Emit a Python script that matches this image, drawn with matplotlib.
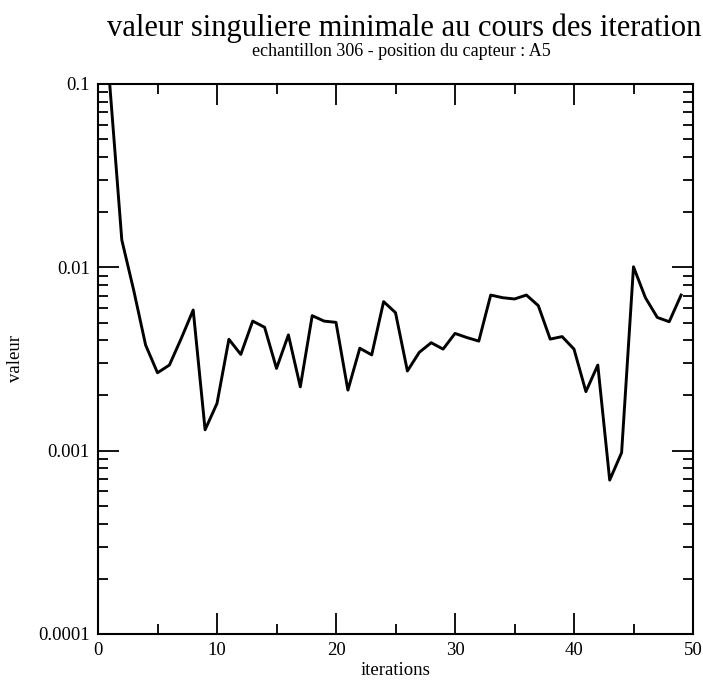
import matplotlib
matplotlib.use("Agg")
import matplotlib.pyplot as plt
from matplotlib.ticker import LogLocator, FixedLocator, NullFormatter

plt.rcParams["font.family"] = ["Liberation Serif", "DejaVu Serif"]

iterations = list(range(1, 50))
valeurs = [
    0.097, 0.0141, 0.0075, 0.00377, 0.00266, 0.00293, 0.00410, 0.00585, 0.00130, 0.00181,
    0.00405, 0.00335, 0.00509, 0.00471, 0.00281, 0.00428, 0.00223, 0.00545, 0.00509, 0.00501,
    0.00214, 0.00362, 0.00333, 0.00650, 0.00566, 0.00272, 0.00344, 0.00388, 0.00358, 0.00436,
    0.00414, 0.00396, 0.00706, 0.00683, 0.00672, 0.00706, 0.00618, 0.00406, 0.00419, 0.00358,
    0.00210, 0.00293, 0.000691, 0.000975, 0.01007, 0.00683, 0.00533, 0.00505, 0.00706,
]
y_ticks = [0.0001, 0.001, 0.01, 0.1]
y_labels = ["0.0001", "0.001", "0.01", "0.1"]
x_ticks = [0, 10, 20, 30, 40, 50]

fig = plt.figure(figsize=(7.03, 6.83), dpi=100)
ax = fig.add_axes([98 / 703, 1 - 634 / 683, 595 / 703, 550 / 683])

ax.plot(iterations, valeurs, color="black", linewidth=2.1)

ax.set_yscale("log")
ax.set_xlim(0, 50)
ax.set_ylim(1e-4, 0.1)

ax.xaxis.set_major_locator(FixedLocator(x_ticks))
ax.xaxis.set_minor_locator(FixedLocator([5, 15, 25, 35, 45]))
ax.set_xticklabels([str(t) for t in x_ticks])
ax.yaxis.set_major_locator(FixedLocator(y_ticks))
ax.set_yticklabels(y_labels)
ax.yaxis.set_minor_locator(LogLocator(base=10, subs=range(2, 10)))
ax.yaxis.set_minor_formatter(NullFormatter())

ax.tick_params(which="both", direction="in", top=True, right=True, width=1.3,
               labelsize=13.5, colors="black")
ax.tick_params(which="major", length=15, pad=6)
ax.tick_params(which="minor", length=7)
for s in ax.spines.values():
    s.set_linewidth(1.5)

ax.set_xlabel("iterations", fontsize=13.5, labelpad=2)
ax.set_ylabel("valeur", fontsize=13.5, labelpad=10)

fig.text(404 / 703, 1 - 28 / 683, "valeur singuliere minimale au cours des iteration",
         ha="center", va="center", fontsize=22)
fig.text(401 / 703, 1 - 51 / 683, "echantillon 306 - position du capteur : A5",
         ha="center", va="center", fontsize=13)

fig.savefig("out.png", dpi=100)
